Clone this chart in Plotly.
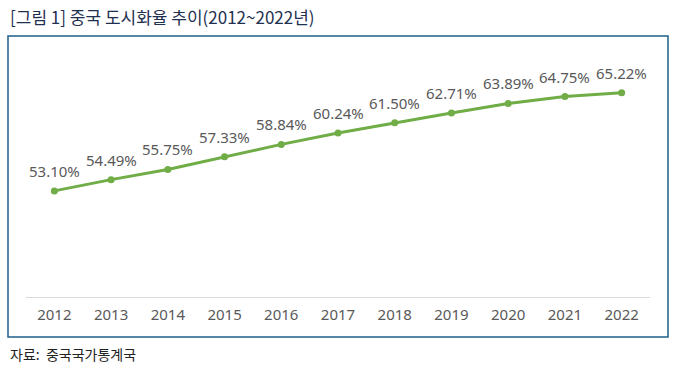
import plotly.graph_objects as go

years = [2012, 2013, 2014, 2015, 2016, 2017, 2018, 2019, 2020, 2021, 2022]
rates = [53.10, 54.49, 55.75, 57.33, 58.84, 60.24, 61.50, 62.71, 63.89, 64.75, 65.22]
labels = [f"{v:.2f}%" for v in rates]

W, H = 676, 370
NUM_FONT = "Noto Sans, Liberation Sans, sans-serif"
fig = go.Figure()
fig.add_trace(go.Scatter(
    x=years, y=rates, mode="lines+markers",
    line=dict(color="#70AD47", width=3),
    marker=dict(color="#70AD47", size=7),
    cliponaxis=False, hoverinfo="skip",
))

annotations = [
    dict(x=yr, y=v, text=t, xref="x", yref="y", showarrow=False, yshift=20,
         xanchor="center", yanchor="middle",
         font=dict(family=NUM_FONT, size=15, color="#595959"))
    for yr, v, t in zip(years, rates, labels)
]
annotations += [
    dict(text="[그림 1] 중국 도시화율 추이(2012~2022년)", xref="paper", yref="paper",
         x=8 / W, y=1 - 17 / H, xanchor="left", yanchor="middle", showarrow=False,
         font=dict(family="Noto Sans CJK KR", size=17, color="#1F3050")),
    dict(text="자료:  중국국가통계국", xref="paper", yref="paper",
         x=8 / W, y=1 - 354 / H, xanchor="left", yanchor="middle", showarrow=False,
         font=dict(family="Noto Sans CJK KR", size=14, color="#222222")),
]

fig.update_layout(
    width=W, height=H, margin=dict(l=0, r=0, t=0, b=0),
    paper_bgcolor="white", plot_bgcolor="white", showlegend=False,
    xaxis=dict(domain=[26 / W, 650 / W], range=[2011.5, 2022.5], showgrid=False,
               zeroline=False, tickvals=years, ticktext=[str(y) for y in years],
               showline=True, linecolor="#D9D9D9", linewidth=1, ticks="",
               tickfont=dict(family=NUM_FONT, size=15, color="#595959"),
               ticklabelstandoff=4),
    yaxis=dict(domain=[(H - 297) / H, (H - 54) / H], range=[40, 70], visible=False),
    shapes=[dict(type="rect", xref="paper", yref="paper",
                 x0=8 / W, x1=668 / W, y0=1 - 337 / H, y1=1 - 36 / H,
                 line=dict(color="#1F5F8B", width=1.5), fillcolor="rgba(0,0,0,0)", layer="below")],
    annotations=annotations,
)
fig.write_html("out.html", config={"displayModeBar": False, "staticPlot": True},
               post_script="document.body.style.margin='0';document.body.style.overflow='hidden';")
